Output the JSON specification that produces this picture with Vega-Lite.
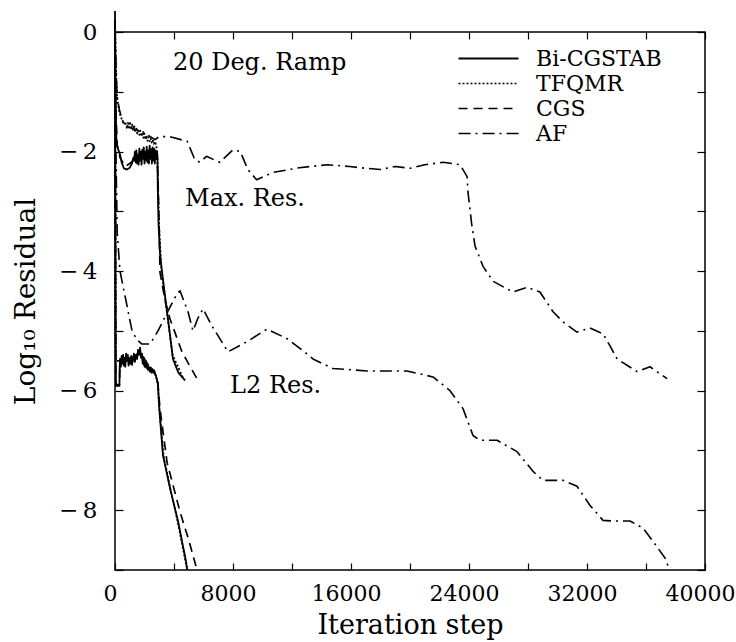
{
  "$schema": "https://vega.github.io/schema/vega-lite/v6.json",
  "autosize": "none",
  "width": 590,
  "height": 538,
  "padding": {"left": 115, "top": 32, "right": 31, "bottom": 72},
  "background": "white",
  "config": {
    "view": {"stroke": "black", "strokeWidth": 1.5},
    "font": "DejaVu Serif",
    "axis": {"grid": false, "domain": false, "labelColor": "black", "titleColor": "black", "tickColor": "black", "labelFont": "DejaVu Serif", "titleFont": "DejaVu Serif", "titleFontWeight": "normal", "labelFlush": false, "labelOverlap": false}
  },
  "datasets": {
    "curves": [
      {"m": "Bi-CGSTAB", "k": "max", "x": 0, "y": 0.35},
      {"m": "Bi-CGSTAB", "k": "max", "x": 30, "y": -0.6},
      {"m": "Bi-CGSTAB", "k": "max", "x": 60, "y": -1.4},
      {"m": "Bi-CGSTAB", "k": "max", "x": 100, "y": -1.85},
      {"m": "Bi-CGSTAB", "k": "max", "x": 200, "y": -1.95},
      {"m": "Bi-CGSTAB", "k": "max", "x": 339, "y": -2.05},
      {"m": "Bi-CGSTAB", "k": "max", "x": 450, "y": -2.18},
      {"m": "Bi-CGSTAB", "k": "max", "x": 600, "y": -2.28},
      {"m": "Bi-CGSTAB", "k": "max", "x": 800, "y": -2.3},
      {"m": "Bi-CGSTAB", "k": "max", "x": 1000, "y": -2.27},
      {"m": "Bi-CGSTAB", "k": "max", "x": 1150, "y": -2.2},
      {"m": "Bi-CGSTAB", "k": "max", "x": 1250, "y": -2.1},
      {"m": "Bi-CGSTAB", "k": "max", "x": 1300, "y": -2.15},
      {"m": "Bi-CGSTAB", "k": "max", "x": 1350, "y": -2.0},
      {"m": "Bi-CGSTAB", "k": "max", "x": 1400, "y": -2.18},
      {"m": "Bi-CGSTAB", "k": "max", "x": 1450, "y": -1.98},
      {"m": "Bi-CGSTAB", "k": "max", "x": 1500, "y": -2.2},
      {"m": "Bi-CGSTAB", "k": "max", "x": 1550, "y": -2.05},
      {"m": "Bi-CGSTAB", "k": "max", "x": 1600, "y": -2.22},
      {"m": "Bi-CGSTAB", "k": "max", "x": 1650, "y": -1.95},
      {"m": "Bi-CGSTAB", "k": "max", "x": 1700, "y": -2.15},
      {"m": "Bi-CGSTAB", "k": "max", "x": 1750, "y": -2.0},
      {"m": "Bi-CGSTAB", "k": "max", "x": 1800, "y": -2.22},
      {"m": "Bi-CGSTAB", "k": "max", "x": 1850, "y": -1.97},
      {"m": "Bi-CGSTAB", "k": "max", "x": 1900, "y": -2.12},
      {"m": "Bi-CGSTAB", "k": "max", "x": 1950, "y": -1.93},
      {"m": "Bi-CGSTAB", "k": "max", "x": 2000, "y": -2.2},
      {"m": "Bi-CGSTAB", "k": "max", "x": 2050, "y": -2.0},
      {"m": "Bi-CGSTAB", "k": "max", "x": 2100, "y": -2.15},
      {"m": "Bi-CGSTAB", "k": "max", "x": 2150, "y": -1.92},
      {"m": "Bi-CGSTAB", "k": "max", "x": 2200, "y": -2.18},
      {"m": "Bi-CGSTAB", "k": "max", "x": 2250, "y": -1.98},
      {"m": "Bi-CGSTAB", "k": "max", "x": 2300, "y": -2.2},
      {"m": "Bi-CGSTAB", "k": "max", "x": 2350, "y": -1.9},
      {"m": "Bi-CGSTAB", "k": "max", "x": 2400, "y": -2.12},
      {"m": "Bi-CGSTAB", "k": "max", "x": 2450, "y": -1.96},
      {"m": "Bi-CGSTAB", "k": "max", "x": 2500, "y": -2.2},
      {"m": "Bi-CGSTAB", "k": "max", "x": 2550, "y": -1.93},
      {"m": "Bi-CGSTAB", "k": "max", "x": 2600, "y": -2.15},
      {"m": "Bi-CGSTAB", "k": "max", "x": 2650, "y": -1.95},
      {"m": "Bi-CGSTAB", "k": "max", "x": 2700, "y": -2.2},
      {"m": "Bi-CGSTAB", "k": "max", "x": 2750, "y": -1.98},
      {"m": "Bi-CGSTAB", "k": "max", "x": 2800, "y": -2.12},
      {"m": "Bi-CGSTAB", "k": "max", "x": 2850, "y": -2.0},
      {"m": "Bi-CGSTAB", "k": "max", "x": 2880, "y": -2.1},
      {"m": "Bi-CGSTAB", "k": "max", "x": 2900, "y": -2.6},
      {"m": "Bi-CGSTAB", "k": "max", "x": 2950, "y": -3.2},
      {"m": "Bi-CGSTAB", "k": "max", "x": 3050, "y": -3.7},
      {"m": "Bi-CGSTAB", "k": "max", "x": 3190, "y": -4.02},
      {"m": "Bi-CGSTAB", "k": "max", "x": 3530, "y": -4.68},
      {"m": "Bi-CGSTAB", "k": "max", "x": 3930, "y": -5.47},
      {"m": "Bi-CGSTAB", "k": "max", "x": 4300, "y": -5.7},
      {"m": "Bi-CGSTAB", "k": "max", "x": 4750, "y": -5.83},

      {"m": "Bi-CGSTAB", "k": "l2", "x": 0, "y": 0.2},
      {"m": "Bi-CGSTAB", "k": "l2", "x": 20, "y": -2.0},
      {"m": "Bi-CGSTAB", "k": "l2", "x": 40, "y": -4.5},
      {"m": "Bi-CGSTAB", "k": "l2", "x": 60, "y": -5.92},
      {"m": "Bi-CGSTAB", "k": "l2", "x": 300, "y": -5.92},
      {"m": "Bi-CGSTAB", "k": "l2", "x": 320, "y": -5.6},
      {"m": "Bi-CGSTAB", "k": "l2", "x": 339, "y": -5.47},
      {"m": "Bi-CGSTAB", "k": "l2", "x": 400, "y": -5.6},
      {"m": "Bi-CGSTAB", "k": "l2", "x": 450, "y": -5.42},
      {"m": "Bi-CGSTAB", "k": "l2", "x": 500, "y": -5.55},
      {"m": "Bi-CGSTAB", "k": "l2", "x": 550, "y": -5.4},
      {"m": "Bi-CGSTAB", "k": "l2", "x": 600, "y": -5.58},
      {"m": "Bi-CGSTAB", "k": "l2", "x": 650, "y": -5.45},
      {"m": "Bi-CGSTAB", "k": "l2", "x": 700, "y": -5.6},
      {"m": "Bi-CGSTAB", "k": "l2", "x": 750, "y": -5.38},
      {"m": "Bi-CGSTAB", "k": "l2", "x": 814, "y": -5.5},
      {"m": "Bi-CGSTAB", "k": "l2", "x": 870, "y": -5.4},
      {"m": "Bi-CGSTAB", "k": "l2", "x": 920, "y": -5.58},
      {"m": "Bi-CGSTAB", "k": "l2", "x": 980, "y": -5.45},
      {"m": "Bi-CGSTAB", "k": "l2", "x": 1050, "y": -5.55},
      {"m": "Bi-CGSTAB", "k": "l2", "x": 1100, "y": -5.42},
      {"m": "Bi-CGSTAB", "k": "l2", "x": 1150, "y": -5.57},
      {"m": "Bi-CGSTAB", "k": "l2", "x": 1220, "y": -5.48},
      {"m": "Bi-CGSTAB", "k": "l2", "x": 1280, "y": -5.38},
      {"m": "Bi-CGSTAB", "k": "l2", "x": 1350, "y": -5.52},
      {"m": "Bi-CGSTAB", "k": "l2", "x": 1420, "y": -5.4},
      {"m": "Bi-CGSTAB", "k": "l2", "x": 1500, "y": -5.47},
      {"m": "Bi-CGSTAB", "k": "l2", "x": 1560, "y": -5.32},
      {"m": "Bi-CGSTAB", "k": "l2", "x": 1620, "y": -5.4},
      {"m": "Bi-CGSTAB", "k": "l2", "x": 1700, "y": -5.28},
      {"m": "Bi-CGSTAB", "k": "l2", "x": 1760, "y": -5.45},
      {"m": "Bi-CGSTAB", "k": "l2", "x": 1820, "y": -5.38},
      {"m": "Bi-CGSTAB", "k": "l2", "x": 1880, "y": -5.55},
      {"m": "Bi-CGSTAB", "k": "l2", "x": 1940, "y": -5.48},
      {"m": "Bi-CGSTAB", "k": "l2", "x": 2000, "y": -5.6},
      {"m": "Bi-CGSTAB", "k": "l2", "x": 2060, "y": -5.52},
      {"m": "Bi-CGSTAB", "k": "l2", "x": 2120, "y": -5.62},
      {"m": "Bi-CGSTAB", "k": "l2", "x": 2170, "y": -5.55},
      {"m": "Bi-CGSTAB", "k": "l2", "x": 2230, "y": -5.65},
      {"m": "Bi-CGSTAB", "k": "l2", "x": 2300, "y": -5.6},
      {"m": "Bi-CGSTAB", "k": "l2", "x": 2360, "y": -5.68},
      {"m": "Bi-CGSTAB", "k": "l2", "x": 2420, "y": -5.62},
      {"m": "Bi-CGSTAB", "k": "l2", "x": 2480, "y": -5.7},
      {"m": "Bi-CGSTAB", "k": "l2", "x": 2540, "y": -5.64},
      {"m": "Bi-CGSTAB", "k": "l2", "x": 2600, "y": -5.7},
      {"m": "Bi-CGSTAB", "k": "l2", "x": 2660, "y": -5.66},
      {"m": "Bi-CGSTAB", "k": "l2", "x": 2710, "y": -5.72},
      {"m": "Bi-CGSTAB", "k": "l2", "x": 2780, "y": -5.75},
      {"m": "Bi-CGSTAB", "k": "l2", "x": 2850, "y": -5.82},
      {"m": "Bi-CGSTAB", "k": "l2", "x": 2915, "y": -5.9},
      {"m": "Bi-CGSTAB", "k": "l2", "x": 2980, "y": -6.2},
      {"m": "Bi-CGSTAB", "k": "l2", "x": 3050, "y": -6.45},
      {"m": "Bi-CGSTAB", "k": "l2", "x": 3250, "y": -7.08},
      {"m": "Bi-CGSTAB", "k": "l2", "x": 3730, "y": -7.63},
      {"m": "Bi-CGSTAB", "k": "l2", "x": 4270, "y": -8.18},
      {"m": "Bi-CGSTAB", "k": "l2", "x": 4810, "y": -8.85},
      {"m": "Bi-CGSTAB", "k": "l2", "x": 4900, "y": -9.0},

      {"m": "TFQMR", "k": "max", "x": 0, "y": 0.1},
      {"m": "TFQMR", "k": "max", "x": 60, "y": -0.6},
      {"m": "TFQMR", "k": "max", "x": 136, "y": -1.08},
      {"m": "TFQMR", "k": "max", "x": 300, "y": -1.35},
      {"m": "TFQMR", "k": "max", "x": 475, "y": -1.47},
      {"m": "TFQMR", "k": "max", "x": 600, "y": -1.55},
      {"m": "TFQMR", "k": "max", "x": 700, "y": -1.5},
      {"m": "TFQMR", "k": "max", "x": 814, "y": -1.62},
      {"m": "TFQMR", "k": "max", "x": 880, "y": -1.52},
      {"m": "TFQMR", "k": "max", "x": 950, "y": -1.6},
      {"m": "TFQMR", "k": "max", "x": 1020, "y": -1.5},
      {"m": "TFQMR", "k": "max", "x": 1090, "y": -1.63},
      {"m": "TFQMR", "k": "max", "x": 1160, "y": -1.55},
      {"m": "TFQMR", "k": "max", "x": 1230, "y": -1.65},
      {"m": "TFQMR", "k": "max", "x": 1300, "y": -1.56},
      {"m": "TFQMR", "k": "max", "x": 1370, "y": -1.68},
      {"m": "TFQMR", "k": "max", "x": 1440, "y": -1.6},
      {"m": "TFQMR", "k": "max", "x": 1510, "y": -1.7},
      {"m": "TFQMR", "k": "max", "x": 1580, "y": -1.62},
      {"m": "TFQMR", "k": "max", "x": 1650, "y": -1.72},
      {"m": "TFQMR", "k": "max", "x": 1720, "y": -1.65},
      {"m": "TFQMR", "k": "max", "x": 1790, "y": -1.75},
      {"m": "TFQMR", "k": "max", "x": 1860, "y": -1.68},
      {"m": "TFQMR", "k": "max", "x": 1930, "y": -1.77},
      {"m": "TFQMR", "k": "max", "x": 2000, "y": -1.7},
      {"m": "TFQMR", "k": "max", "x": 2070, "y": -1.8},
      {"m": "TFQMR", "k": "max", "x": 2140, "y": -1.73},
      {"m": "TFQMR", "k": "max", "x": 2210, "y": -1.82},
      {"m": "TFQMR", "k": "max", "x": 2280, "y": -1.76},
      {"m": "TFQMR", "k": "max", "x": 2350, "y": -1.83},
      {"m": "TFQMR", "k": "max", "x": 2420, "y": -1.78},
      {"m": "TFQMR", "k": "max", "x": 2490, "y": -1.85},
      {"m": "TFQMR", "k": "max", "x": 2560, "y": -1.8},
      {"m": "TFQMR", "k": "max", "x": 2630, "y": -1.87},
      {"m": "TFQMR", "k": "max", "x": 2710, "y": -1.83},
      {"m": "TFQMR", "k": "max", "x": 2800, "y": -1.9},
      {"m": "TFQMR", "k": "max", "x": 2880, "y": -2.1},
      {"m": "TFQMR", "k": "max", "x": 2920, "y": -2.6},
      {"m": "TFQMR", "k": "max", "x": 3000, "y": -3.3},
      {"m": "TFQMR", "k": "max", "x": 3150, "y": -4.0},
      {"m": "TFQMR", "k": "max", "x": 3500, "y": -4.65},
      {"m": "TFQMR", "k": "max", "x": 3900, "y": -5.4},
      {"m": "TFQMR", "k": "max", "x": 4600, "y": -5.78},

      {"m": "TFQMR", "k": "l2", "x": 0, "y": 0.1},
      {"m": "TFQMR", "k": "l2", "x": 25, "y": -2.5},
      {"m": "TFQMR", "k": "l2", "x": 50, "y": -5.5},
      {"m": "TFQMR", "k": "l2", "x": 339, "y": -5.5},
      {"m": "TFQMR", "k": "l2", "x": 800, "y": -5.5},
      {"m": "TFQMR", "k": "l2", "x": 1200, "y": -5.45},
      {"m": "TFQMR", "k": "l2", "x": 1700, "y": -5.35},
      {"m": "TFQMR", "k": "l2", "x": 2200, "y": -5.55},
      {"m": "TFQMR", "k": "l2", "x": 2700, "y": -5.7},
      {"m": "TFQMR", "k": "l2", "x": 2900, "y": -5.88},
      {"m": "TFQMR", "k": "l2", "x": 3000, "y": -6.3},
      {"m": "TFQMR", "k": "l2", "x": 3300, "y": -7.1},
      {"m": "TFQMR", "k": "l2", "x": 3800, "y": -7.7},
      {"m": "TFQMR", "k": "l2", "x": 4300, "y": -8.25},
      {"m": "TFQMR", "k": "l2", "x": 4850, "y": -8.95},

      {"m": "CGS", "k": "max", "x": 0, "y": 0.2},
      {"m": "CGS", "k": "max", "x": 60, "y": -1.3},
      {"m": "CGS", "k": "max", "x": 150, "y": -1.9},
      {"m": "CGS", "k": "max", "x": 339, "y": -2.1},
      {"m": "CGS", "k": "max", "x": 700, "y": -2.25},
      {"m": "CGS", "k": "max", "x": 1000, "y": -2.2},
      {"m": "CGS", "k": "max", "x": 1500, "y": -2.1},
      {"m": "CGS", "k": "max", "x": 2000, "y": -2.05},
      {"m": "CGS", "k": "max", "x": 2500, "y": -2.05},
      {"m": "CGS", "k": "max", "x": 2850, "y": -2.05},
      {"m": "CGS", "k": "max", "x": 2920, "y": -2.5},
      {"m": "CGS", "k": "max", "x": 3000, "y": -3.3},
      {"m": "CGS", "k": "max", "x": 3050, "y": -4.02},
      {"m": "CGS", "k": "max", "x": 3400, "y": -4.5},
      {"m": "CGS", "k": "max", "x": 3730, "y": -4.8},
      {"m": "CGS", "k": "max", "x": 4540, "y": -5.35},
      {"m": "CGS", "k": "max", "x": 5100, "y": -5.6},
      {"m": "CGS", "k": "max", "x": 5560, "y": -5.8},

      {"m": "CGS", "k": "l2", "x": 0, "y": 0.2},
      {"m": "CGS", "k": "l2", "x": 20, "y": -2.0},
      {"m": "CGS", "k": "l2", "x": 40, "y": -4.5},
      {"m": "CGS", "k": "l2", "x": 60, "y": -5.9},
      {"m": "CGS", "k": "l2", "x": 300, "y": -5.9},
      {"m": "CGS", "k": "l2", "x": 339, "y": -5.5},
      {"m": "CGS", "k": "l2", "x": 800, "y": -5.45},
      {"m": "CGS", "k": "l2", "x": 1200, "y": -5.45},
      {"m": "CGS", "k": "l2", "x": 1700, "y": -5.35},
      {"m": "CGS", "k": "l2", "x": 2200, "y": -5.55},
      {"m": "CGS", "k": "l2", "x": 2700, "y": -5.7},
      {"m": "CGS", "k": "l2", "x": 2900, "y": -5.85},
      {"m": "CGS", "k": "l2", "x": 3050, "y": -6.3},
      {"m": "CGS", "k": "l2", "x": 3530, "y": -7.2},
      {"m": "CGS", "k": "l2", "x": 4400, "y": -8.02},
      {"m": "CGS", "k": "l2", "x": 5000, "y": -8.5},
      {"m": "CGS", "k": "l2", "x": 5450, "y": -8.9},
      {"m": "CGS", "k": "l2", "x": 5550, "y": -9.0},

      {"m": "AF", "k": "max", "x": 0, "y": 0.0},
      {"m": "AF", "k": "max", "x": 80, "y": -0.6},
      {"m": "AF", "k": "max", "x": 136, "y": -1.08},
      {"m": "AF", "k": "max", "x": 300, "y": -1.3},
      {"m": "AF", "k": "max", "x": 475, "y": -1.47},
      {"m": "AF", "k": "max", "x": 814, "y": -1.58},
      {"m": "AF", "k": "max", "x": 1220, "y": -1.62},
      {"m": "AF", "k": "max", "x": 1900, "y": -1.67},
      {"m": "AF", "k": "max", "x": 2710, "y": -1.8},
      {"m": "AF", "k": "max", "x": 3000, "y": -1.75},
      {"m": "AF", "k": "max", "x": 3700, "y": -1.75},
      {"m": "AF", "k": "max", "x": 4900, "y": -1.83},
      {"m": "AF", "k": "max", "x": 5400, "y": -2.13},
      {"m": "AF", "k": "max", "x": 5750, "y": -2.18},
      {"m": "AF", "k": "max", "x": 6200, "y": -2.08},
      {"m": "AF", "k": "max", "x": 7100, "y": -2.18},
      {"m": "AF", "k": "max", "x": 8000, "y": -1.97},
      {"m": "AF", "k": "max", "x": 8500, "y": -2.0},
      {"m": "AF", "k": "max", "x": 9000, "y": -2.3},
      {"m": "AF", "k": "max", "x": 9600, "y": -2.47},
      {"m": "AF", "k": "max", "x": 10700, "y": -2.35},
      {"m": "AF", "k": "max", "x": 12500, "y": -2.27},
      {"m": "AF", "k": "max", "x": 14400, "y": -2.22},
      {"m": "AF", "k": "max", "x": 15900, "y": -2.25},
      {"m": "AF", "k": "max", "x": 17000, "y": -2.28},
      {"m": "AF", "k": "max", "x": 18000, "y": -2.3},
      {"m": "AF", "k": "max", "x": 19000, "y": -2.25},
      {"m": "AF", "k": "max", "x": 20000, "y": -2.28},
      {"m": "AF", "k": "max", "x": 21000, "y": -2.22},
      {"m": "AF", "k": "max", "x": 22240, "y": -2.18},
      {"m": "AF", "k": "max", "x": 23390, "y": -2.22},
      {"m": "AF", "k": "max", "x": 23870, "y": -2.42},
      {"m": "AF", "k": "max", "x": 23930, "y": -2.68},
      {"m": "AF", "k": "max", "x": 24200, "y": -3.25},
      {"m": "AF", "k": "max", "x": 24410, "y": -3.58},
      {"m": "AF", "k": "max", "x": 24950, "y": -3.92},
      {"m": "AF", "k": "max", "x": 25630, "y": -4.17},
      {"m": "AF", "k": "max", "x": 26980, "y": -4.35},
      {"m": "AF", "k": "max", "x": 27930, "y": -4.27},
      {"m": "AF", "k": "max", "x": 28810, "y": -4.35},
      {"m": "AF", "k": "max", "x": 29700, "y": -4.68},
      {"m": "AF", "k": "max", "x": 30370, "y": -4.85},
      {"m": "AF", "k": "max", "x": 31320, "y": -5.02},
      {"m": "AF", "k": "max", "x": 32200, "y": -4.95},
      {"m": "AF", "k": "max", "x": 33090, "y": -5.05},
      {"m": "AF", "k": "max", "x": 33560, "y": -5.25},
      {"m": "AF", "k": "max", "x": 34040, "y": -5.47},
      {"m": "AF", "k": "max", "x": 35390, "y": -5.68},
      {"m": "AF", "k": "max", "x": 36270, "y": -5.6},
      {"m": "AF", "k": "max", "x": 37430, "y": -5.8},

      {"m": "AF", "k": "l2", "x": 0, "y": 0.0},
      {"m": "AF", "k": "l2", "x": 60, "y": -2.0},
      {"m": "AF", "k": "l2", "x": 150, "y": -3.35},
      {"m": "AF", "k": "l2", "x": 339, "y": -4.0},
      {"m": "AF", "k": "l2", "x": 814, "y": -4.58},
      {"m": "AF", "k": "l2", "x": 1153, "y": -5.0},
      {"m": "AF", "k": "l2", "x": 1500, "y": -5.15},
      {"m": "AF", "k": "l2", "x": 1830, "y": -5.22},
      {"m": "AF", "k": "l2", "x": 2373, "y": -5.22},
      {"m": "AF", "k": "l2", "x": 2915, "y": -5.0},
      {"m": "AF", "k": "l2", "x": 3526, "y": -4.7},
      {"m": "AF", "k": "l2", "x": 4204, "y": -4.38},
      {"m": "AF", "k": "l2", "x": 4407, "y": -4.33},
      {"m": "AF", "k": "l2", "x": 4949, "y": -4.68},
      {"m": "AF", "k": "l2", "x": 5288, "y": -5.0},
      {"m": "AF", "k": "l2", "x": 5600, "y": -4.8},
      {"m": "AF", "k": "l2", "x": 5966, "y": -4.63},
      {"m": "AF", "k": "l2", "x": 6577, "y": -4.92},
      {"m": "AF", "k": "l2", "x": 7661, "y": -5.35},
      {"m": "AF", "k": "l2", "x": 8950, "y": -5.18},
      {"m": "AF", "k": "l2", "x": 10306, "y": -4.97},
      {"m": "AF", "k": "l2", "x": 11662, "y": -5.13},
      {"m": "AF", "k": "l2", "x": 12746, "y": -5.33},
      {"m": "AF", "k": "l2", "x": 13424, "y": -5.47},
      {"m": "AF", "k": "l2", "x": 14780, "y": -5.63},
      {"m": "AF", "k": "l2", "x": 17086, "y": -5.67},
      {"m": "AF", "k": "l2", "x": 19798, "y": -5.67},
      {"m": "AF", "k": "l2", "x": 21560, "y": -5.77},
      {"m": "AF", "k": "l2", "x": 22713, "y": -6.0},
      {"m": "AF", "k": "l2", "x": 23594, "y": -6.3},
      {"m": "AF", "k": "l2", "x": 24272, "y": -6.75},
      {"m": "AF", "k": "l2", "x": 24747, "y": -6.83},
      {"m": "AF", "k": "l2", "x": 25900, "y": -6.83},
      {"m": "AF", "k": "l2", "x": 27256, "y": -7.02},
      {"m": "AF", "k": "l2", "x": 28340, "y": -7.35},
      {"m": "AF", "k": "l2", "x": 29018, "y": -7.5},
      {"m": "AF", "k": "l2", "x": 30374, "y": -7.5},
      {"m": "AF", "k": "l2", "x": 31324, "y": -7.6},
      {"m": "AF", "k": "l2", "x": 32205, "y": -7.92},
      {"m": "AF", "k": "l2", "x": 33086, "y": -8.17},
      {"m": "AF", "k": "l2", "x": 33764, "y": -8.18},
      {"m": "AF", "k": "l2", "x": 34917, "y": -8.18},
      {"m": "AF", "k": "l2", "x": 35798, "y": -8.3},
      {"m": "AF", "k": "l2", "x": 36476, "y": -8.52},
      {"m": "AF", "k": "l2", "x": 37290, "y": -8.8},
      {"m": "AF", "k": "l2", "x": 37600, "y": -9.0}
    ],
    "notes": [
      {"x": 3930, "y": -0.52, "t": "20 Deg. Ramp"},
      {"x": 4750, "y": -2.8, "t": "Max. Res."},
      {"x": 7800, "y": -5.92, "t": "L2 Res."}
    ]
  },
  "resolve": {"axis": {"x": "independent", "y": "independent"}},
  "layer": [
    {
      "data": {"name": "curves"},
      "mark": {"type": "line", "color": "black", "strokeCap": "butt", "strokeJoin": "round"},
      "encoding": {
        "x": {"field": "x", "type": "quantitative", "scale": {"domain": [0, 40000], "nice": false, "zero": false},
          "axis": {"title": "Iteration step", "values": [0, 4000, 8000, 12000, 16000, 20000, 24000, 28000, 32000, 36000, 40000],
            "labelExpr": "datum.value % 8000 == 0 ? datum.label : ''", "format": "d", "tickSize": -7, "tickWidth": 1.2,
            "labelFontSize": 22, "labelPadding": 20, "labelOffset": -5, "titleFontSize": 27,
            "titleY": 42, "titleBaseline": "top"}},
        "y": {"field": "y", "type": "quantitative", "scale": {"domain": [-9, 0], "nice": false, "zero": false},
          "axis": {"title": "Log₁₀ Residual", "values": [-9, -8, -7, -6, -5, -4, -3, -2, -1, 0],
            "labelExpr": "datum.value % 2 == 0 ? (datum.value == 0 ? '0' : '−\u2009' + abs(datum.value)) : ''",
            "tickSize": -8, "tickWidth": 1.2, "labelFontSize": 23, "labelPadding": 26, "titleFontSize": 28, "titlePadding": 18}},
        "strokeDash": {"field": "m", "type": "nominal",
          "scale": {"domain": ["Bi-CGSTAB", "TFQMR", "CGS", "AF"], "range": [[1, 0], [2, 2], [9, 6], [12, 5, 2, 5]]},
          "legend": {"title": null, "orient": "none", "legendX": 360, "legendY": 13, "symbolType": "M-2.4,0L2.4,0", "symbolSize": 625,
            "symbolStrokeWidth": 1.6, "symbolStrokeColor": "black", "labelFont": "DejaVu Serif", "labelFontSize": 22,
            "labelColor": "black", "labelOffset": 34, "rowPadding": 0}},
        "strokeWidth": {"field": "m", "type": "nominal",
          "scale": {"domain": ["Bi-CGSTAB", "TFQMR", "CGS", "AF"], "range": [1.8, 1.6, 1.2, 1.2]}, "legend": null},
        "detail": {"field": "k", "type": "nominal"}
      }
    },
    {
      "data": {"name": "notes"},
      "mark": {"type": "text", "align": "left", "baseline": "middle", "font": "DejaVu Serif", "fontSize": 24, "color": "black"},
      "encoding": {
        "x": {"field": "x", "type": "quantitative",
          "axis": {"orient": "top", "title": null, "labels": false, "values": [0, 4000, 8000, 12000, 16000, 20000, 24000, 28000, 32000, 36000, 40000], "tickSize": -7, "tickWidth": 1.2}},
        "y": {"field": "y", "type": "quantitative",
          "axis": {"orient": "right", "title": null, "labels": false, "values": [-9, -8, -7, -6, -5, -4, -3, -2, -1, 0], "tickSize": -8, "tickWidth": 1.2}},
        "text": {"field": "t"}
      }
    }
  ]
}
